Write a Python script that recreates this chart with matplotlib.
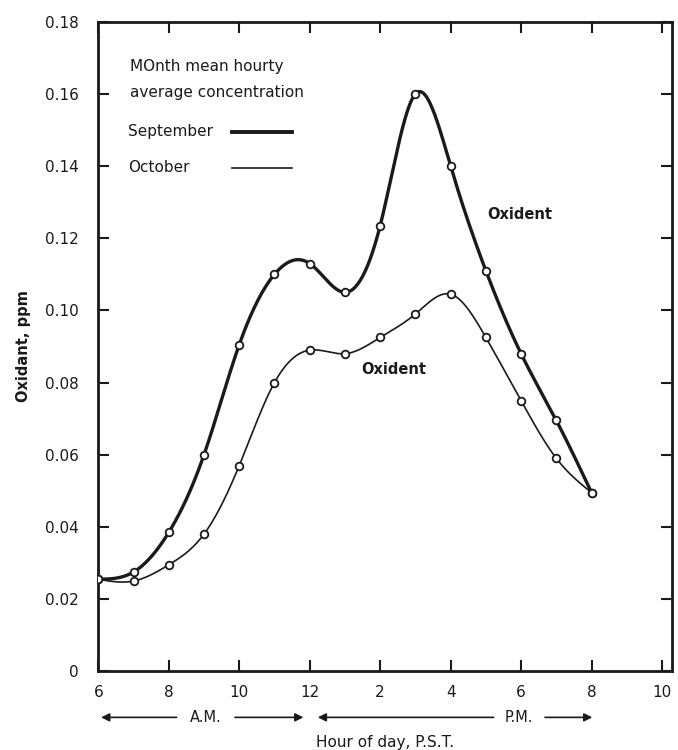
import numpy as np
import matplotlib
matplotlib.use("Agg")
import matplotlib.pyplot as plt

hours = [6, 7, 8, 9, 10, 11, 12, 13, 14, 15, 16, 17, 18, 19, 20]
september = [0.0255, 0.0275, 0.0385, 0.060, 0.0905, 0.110, 0.113, 0.105,
             0.1235, 0.160, 0.140, 0.111, 0.088, 0.0695, 0.0495]
october = [0.0255, 0.025, 0.0295, 0.038, 0.057, 0.080, 0.089, 0.088,
           0.0925, 0.099, 0.1045, 0.0925, 0.075, 0.059, 0.0495]
xtick_pos = [6, 8, 10, 12, 14, 16, 18, 20, 22]
xtick_labels = ["6", "8", "10", "12", "2", "4", "6", "8", "10"]
ytick_pos = [0, 0.02, 0.04, 0.06, 0.08, 0.10, 0.12, 0.14, 0.16, 0.18]
ytick_labels = ["0", "0.02", "0.04", "0.06", "0.08", "0.10", "0.12", "0.14", "0.16", "0.18"]


def natural_spline(x, y, n=400):
    x = np.asarray(x, float)
    y = np.asarray(y, float)
    m = len(x)
    h = np.diff(x)
    A = np.zeros((m, m))
    b = np.zeros(m)
    A[0, 0] = A[-1, -1] = 1
    for i in range(1, m - 1):
        A[i, i - 1] = h[i - 1]
        A[i, i] = 2 * (h[i - 1] + h[i])
        A[i, i + 1] = h[i]
        b[i] = 3 * ((y[i + 1] - y[i]) / h[i] - (y[i] - y[i - 1]) / h[i - 1])
    c = np.linalg.solve(A, b)
    xs = np.linspace(x[0], x[-1], n)
    idx = np.clip(np.searchsorted(x, xs) - 1, 0, m - 2)
    dx = xs - x[idx]
    bb = (y[1:] - y[:-1]) / h - h * (2 * c[:-1] + c[1:]) / 3
    d = (c[1:] - c[:-1]) / (3 * h)
    ys = y[idx] + bb[idx] * dx + c[idx] * dx ** 2 + d[idx] * dx ** 3
    return xs, ys


plt.rcParams['font.family'] = ['DejaVu Sans']
fig = plt.figure(figsize=(6.78, 7.5), dpi=100)
ax = fig.add_axes([0.145, 0.105, 0.846, 0.866])

ink = '#1a1a1a'
for data, lw in ((september, 2.4), (october, 1.2)):
    xs, ys = natural_spline(hours, data)
    ax.plot(xs, ys, color=ink, lw=lw, zorder=2)
    ax.plot(hours, data, 'o', ms=5.5, mfc='white', mec=ink, mew=1.3, zorder=3)

ax.set_xlim(6, 22.28)
ax.set_ylim(0, 0.18)
ax.set_xticks(xtick_pos)
ax.set_xticklabels(xtick_labels, fontsize=11)
ax.set_yticks(ytick_pos)
ax.set_yticklabels(ytick_labels, fontsize=11)
ax.tick_params(direction='in', length=8, width=1.5, top=True, right=True,
               labeltop=False, labelright=False, color=ink, labelcolor=ink)
ax.tick_params(axis='y', pad=14)
ax.tick_params(axis='x', pad=10)
for s in ax.spines.values():
    s.set_linewidth(2)
    s.set_color(ink)

ax.set_ylabel("Oxidant, ppm", fontsize=10.5, fontweight='bold', labelpad=10, color=ink)
ax.text(0.5, -0.11, "Hour of day, P.S.T.", transform=ax.transAxes,
        ha='center', va='center', fontsize=11, color=ink)

# A.M. / P.M. arrows
tr = ax.get_xaxis_transform()
yarr = -0.071
arrow_kw = dict(arrowstyle='-|>', color=ink, lw=1.2, mutation_scale=12)
ax.annotate("", xy=(6, yarr), xytext=(8.3, yarr), xycoords=tr, textcoords=tr,
            arrowprops=arrow_kw, annotation_clip=False)
ax.annotate("", xy=(11.9, yarr), xytext=(9.8, yarr), xycoords=tr, textcoords=tr,
            arrowprops=arrow_kw, annotation_clip=False)
ax.text(9.05, yarr, "A.M.", transform=tr, ha='center', va='center', fontsize=10.5, color=ink)
ax.annotate("", xy=(12.15, yarr), xytext=(17.3, yarr), xycoords=tr, textcoords=tr,
            arrowprops=arrow_kw, annotation_clip=False)
ax.annotate("", xy=(20.1, yarr), xytext=(18.6, yarr), xycoords=tr, textcoords=tr,
            arrowprops=arrow_kw, annotation_clip=False)
ax.text(17.95, yarr, "P.M.", transform=tr, ha='center', va='center', fontsize=10.5, color=ink)

# legend text
lf = 11
ax.text(6.9, 0.1675, "MOnth mean hourty", fontsize=lf, va='center', color=ink)
ax.text(6.9, 0.1605, "average concentration", fontsize=lf, va='center', color=ink)
ax.text(6.85, 0.1495, "September", fontsize=lf, va='center', color=ink)
ax.plot([9.8, 11.5], [0.1495, 0.1495], color=ink, lw=2.8)
ax.text(6.85, 0.1395, "October", fontsize=lf, va='center', color=ink)
ax.plot([9.8, 11.5], [0.1395, 0.1395], color=ink, lw=1.2)

ax.text(17.05, 0.1265, "Oxident", fontsize=10.5, fontweight='bold', va='center', color=ink)
ax.text(13.45, 0.0835, "Oxident", fontsize=10.5, fontweight='bold', va='center', color=ink)

fig.savefig("out.png", dpi=100, facecolor='white')
